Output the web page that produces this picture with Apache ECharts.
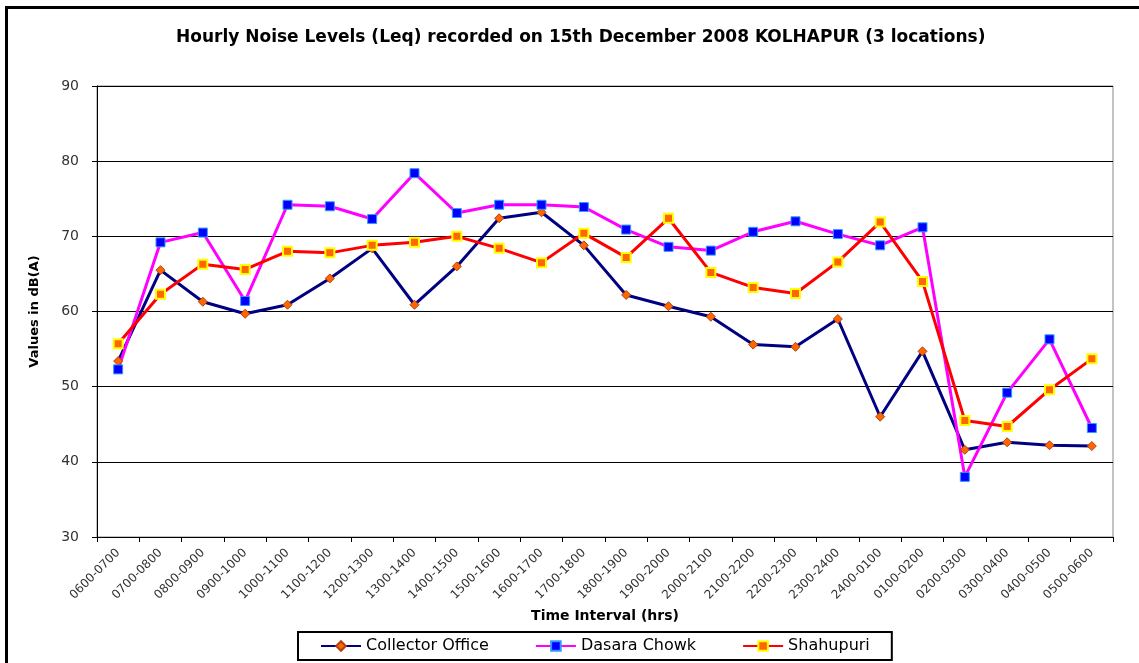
<!DOCTYPE html>
<html>
<head>
<meta charset="utf-8">
<script src="https://cdn.jsdelivr.net/npm/echarts@6/dist/echarts.min.js"></script>
<style>
  html, body { margin: 0; padding: 0; background: #fff; }
  #main { width: 1139px; height: 663px; }
</style>
</head>
<body>
<div id="main"></div>
<script>
var intervals = ["0600-0700", "0700-0800", "0800-0900", "0900-1000", "1000-1100", "1100-1200",
  "1200-1300", "1300-1400", "1400-1500", "1500-1600", "1600-1700", "1700-1800",
  "1800-1900", "1900-2000", "2000-2100", "2100-2200", "2200-2300", "2300-2400",
  "2400-0100", "0100-0200", "0200-0300", "0300-0400", "0400-0500", "0500-0600"];

var collectorOffice = [53.4, 65.5, 61.3, 59.7, 60.9, 64.4, 68.4, 60.9, 66.0, 72.4, 73.2, 68.8,
  62.2, 60.7, 59.3, 55.6, 55.3, 59.0, 46.0, 54.7, 41.6, 42.6, 42.2, 42.1];
var dasaraChowk = [52.3, 69.2, 70.5, 61.4, 74.2, 74.0, 72.3, 78.4, 73.1, 74.2, 74.2, 73.9,
  70.9, 68.6, 68.1, 70.6, 72.0, 70.3, 68.8, 71.2, 38.0, 49.2, 56.3, 44.5];
var shahupuri = [55.7, 62.3, 66.3, 65.6, 68.0, 67.8, 68.8, 69.2, 70.0, 68.4, 66.5, 70.4,
  67.2, 72.4, 65.2, 63.2, 62.4, 66.6, 71.9, 64.0, 45.5, 44.7, 49.6, 53.7];

var font = "DejaVu Sans";
var chart = echarts.init(document.getElementById("main"));

chart.setOption({
  backgroundColor: "#fff",
  animation: false,
  textStyle: { fontFamily: font },
  title: {
    text: "Hourly Noise Levels (Leq) recorded on 15th December 2008 KOLHAPUR (3 locations)",
    left: 171,
    top: 24,
    textStyle: { fontSize: 17, fontWeight: "bold", color: "#000", fontFamily: font }
  },
  graphic: [
    {
      type: "rect",
      shape: { x: 6.5, y: 7.5, width: 1150, height: 700 },
      style: { fill: "none", stroke: "#000", lineWidth: 3 },
      silent: true
    }
  ],
  legend: {
    left: 298,
    top: 632,
    padding: [6, 22, 6, 22],
    borderColor: "#000",
    borderWidth: 2,
    itemWidth: 40,
    itemHeight: 12,
    itemGap: 46,
    textStyle: { fontSize: 16, color: "#000", fontFamily: font },
    data: ["Collector Office", "Dasara Chowk", "Shahupuri"]
  },
  grid: { left: 97, right: 26, top: 86, bottom: 126, show: true, borderColor: "#888", borderWidth: 1 },
  xAxis: {
    type: "category",
    data: intervals,
    boundaryGap: true,
    name: "Time Interval (hrs)",
    nameLocation: "middle",
    nameGap: 72,
    nameTextStyle: { fontSize: 14, fontWeight: "bold", color: "#000" },
    axisLine: { lineStyle: { color: "#000", width: 1 } },
    axisTick: { show: true, alignWithLabel: false, length: 5, lineStyle: { color: "#000" } },
    axisLabel: { rotate: 45, fontSize: 12, color: "#333", margin: 14, interval: 0 },
    splitLine: { show: false }
  },
  yAxis: {
    type: "value",
    min: 30,
    max: 90,
    interval: 10,
    name: "Values in dB(A)",
    nameLocation: "middle",
    nameGap: 56,
    nameTextStyle: { fontSize: 13, fontWeight: "bold", color: "#000" },
    axisLine: { show: true, lineStyle: { color: "#000", width: 1 } },
    axisTick: { show: true, length: 5, lineStyle: { color: "#000" } },
    axisLabel: { fontSize: 14, color: "#333", margin: 18 },
    splitLine: { show: true, lineStyle: { color: "#000", width: 1 } }
  },
  series: [
    {
      name: "Collector Office",
      type: "line",
      data: collectorOffice,
      symbol: "diamond",
      symbolSize: 9,
      lineStyle: { color: "#000080", width: 3 },
      itemStyle: { color: "#FF6600", borderColor: "#B04010", borderWidth: 1 }
    },
    {
      name: "Dasara Chowk",
      type: "line",
      data: dasaraChowk,
      symbol: "rect",
      symbolSize: 9,
      lineStyle: { color: "#FF00FF", width: 3 },
      itemStyle: { color: "#0000FF", borderColor: "#3399FF", borderWidth: 1 }
    },
    {
      name: "Shahupuri",
      type: "line",
      data: shahupuri,
      symbol: "rect",
      symbolSize: 9,
      lineStyle: { color: "#FF0000", width: 3 },
      itemStyle: { color: "#FF6600", borderColor: "#FFFF00", borderWidth: 2 }
    }
  ]
});
</script>
</body>
</html>
